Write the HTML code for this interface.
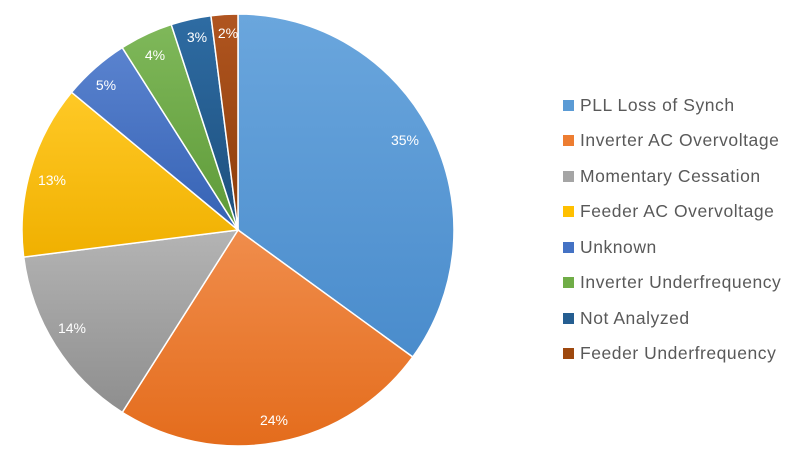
<!DOCTYPE html>
<html><head><meta charset="utf-8"><style>
body{margin:0;background:#fff;width:800px;height:464px;overflow:hidden;font-family:"Liberation Sans",sans-serif}
.lg{position:absolute;left:563px;font-size:17.5px;letter-spacing:0.55px;color:#595959;line-height:18px;white-space:nowrap}
.lg span{display:inline-block;width:11px;height:11px;margin-right:6px;vertical-align:0px}
</style></head><body>
<svg id="s" width="800" height="464" style="position:absolute;left:0;top:0">
<defs></defs>
<g id="p"></g>
<g fill="#fff" font-size="14" text-anchor="middle" font-family="Liberation Sans, sans-serif">
<text x="405" y="145">35%</text>
<text x="274" y="425">24%</text>
<text x="72" y="333">14%</text>
<text x="52" y="185">13%</text>
<text x="106" y="90">5%</text>
<text x="155" y="60">4%</text>
<text x="197" y="42">3%</text>
<text x="228" y="38">2%</text>
</g>
</svg>
<div class="lg" style="top:96px"><span style="background:#5B9BD5"></span>PLL Loss of Synch</div>
<div class="lg" style="top:131px"><span style="background:#ED7D31"></span>Inverter AC Overvoltage</div>
<div class="lg" style="top:167px"><span style="background:#A5A5A5"></span>Momentary Cessation</div>
<div class="lg" style="top:202px"><span style="background:#FFC000"></span>Feeder AC Overvoltage</div>
<div class="lg" style="top:238px"><span style="background:#4472C4"></span>Unknown</div>
<div class="lg" style="top:273px"><span style="background:#70AD47"></span>Inverter Underfrequency</div>
<div class="lg" style="top:309px"><span style="background:#255E91"></span>Not Analyzed</div>
<div class="lg" style="top:344px"><span style="background:#9E480E"></span>Feeder Underfrequency</div>
<script>
var v=[35,24,14,13,5,4,3,2];
var c=[["#6aa6dd","#4a8ccc"],["#f08d4c","#e46c1c"],["#b4b4b4","#8e8e8e"],["#ffc926","#f0b000"],["#5a83cf","#3562b4"],["#7fb85a","#5e9a38"],["#2e6ca3","#1d4f7d"],["#b05520","#8c3d08"]];
var cx=238,cy=230,r=216,a=0,ns="http://www.w3.org/2000/svg",g=document.getElementById("p"),d=document.querySelector("defs");
v.forEach(function(x,i){
 var gr=document.createElementNS(ns,"linearGradient");gr.id="g"+i;gr.setAttribute("x1","0");gr.setAttribute("y1","0");gr.setAttribute("x2","0");gr.setAttribute("y2","1");
 gr.innerHTML='<stop offset="0" stop-color="'+c[i][0]+'"/><stop offset="1" stop-color="'+c[i][1]+'"/>';d.appendChild(gr);
 var b=a+x/100*2*Math.PI;
 var x1=cx+r*Math.sin(a),y1=cy-r*Math.cos(a),x2=cx+r*Math.sin(b),y2=cy-r*Math.cos(b);
 var p=document.createElementNS(ns,"path");
 p.setAttribute("d","M"+cx+","+cy+"L"+x1+","+y1+"A"+r+","+r+" 0 "+(x>50?1:0)+" 1 "+x2+","+y2+"Z");
 p.setAttribute("fill","url(#g"+i+")");p.setAttribute("stroke","#fff");p.setAttribute("stroke-width","1.5");
 g.appendChild(p);a=b;});
</script>
</body></html>
